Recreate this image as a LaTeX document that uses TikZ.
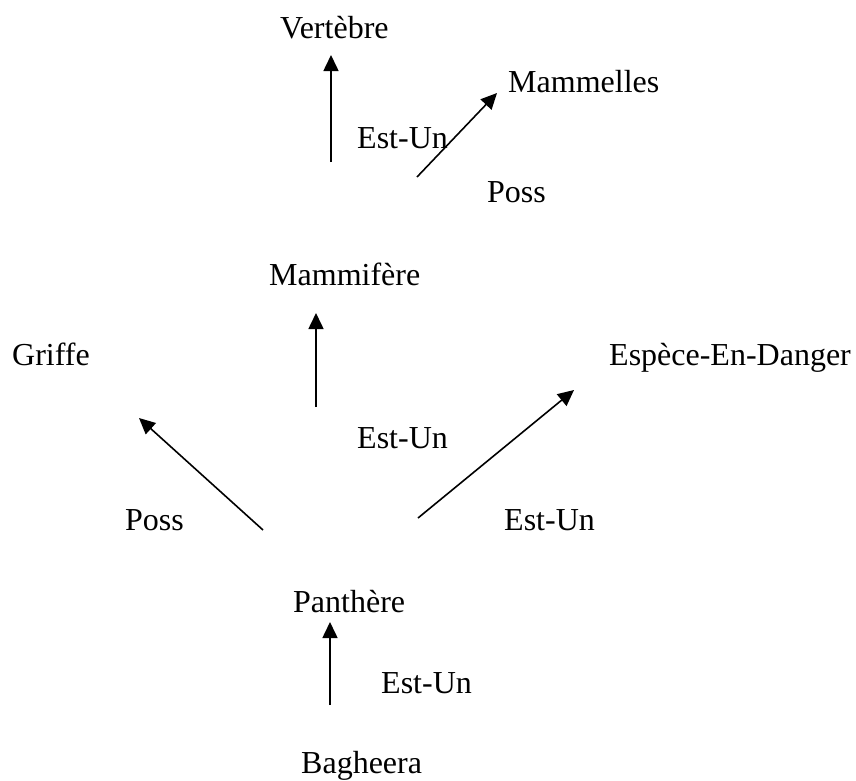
\documentclass[tikz,border=0pt]{standalone}
\usepackage{fontspec}
\setmainfont{Liberation Serif}
\usetikzlibrary{arrows.meta}
\tikzset{
  >={Triangle[length=16pt,width=15pt]},
  concept/.style={anchor=base west,inner sep=0pt,font=\fontsize{32}{38}\selectfont},
  rel/.style={concept},
  link/.style={->,line width=1.6pt,draw=black}
}

\begin{document}
\begin{tikzpicture}[x=1pt,y=-1pt]
  \useasboundingbox (0,0) rectangle (856,780);
  % concepts
  \node[concept] (vertebre) at (280,38) {Vertèbre};
  \node[concept] (mammelles) at (508,92) {Mammelles};
  \node[concept] (mammifere) at (269,285) {Mammifère};
  \node[concept] (griffe) at (12,365) {Griffe};
  \node[concept] (danger) at (609,365) {Espèce-En-Danger};
  \node[concept] (panthere) at (293,612) {Panthère};
  \node[concept] (bagheera) at (301,773) {Bagheera};
  % relation labels
  \node[rel] (isa-vert) at (357,148) {Est-Un};
  \node[rel] (poss-mam) at (487,202) {Poss};
  \node[rel] (isa-mammif) at (357,448) {Est-Un};
  \node[rel] (poss-griffe) at (125,530) {Poss};
  \node[rel] (isa-danger) at (504,530) {Est-Un};
  \node[rel] (isa-panth) at (381,693) {Est-Un};
  % arrow ends
  \coordinate (mammif-up) at (331,162);
  \coordinate (vertebre-in) at (331,55);
  \coordinate (mammif-right) at (417,177);
  \coordinate (mammelles-in) at (497,93);
  \coordinate (panth-up) at (316,407);
  \coordinate (mammif-in) at (316,313);
  \coordinate (panth-left) at (263,530);
  \coordinate (griffe-in) at (139,418);
  \coordinate (panth-right) at (418,518);
  \coordinate (danger-in) at (574,390);
  \coordinate (bag-up) at (330,705);
  \coordinate (panth-in) at (330,622);
  \draw[link] (mammif-up) -- (vertebre-in);
  \draw[link] (mammif-right) -- (mammelles-in);
  \draw[link] (panth-up) -- (mammif-in);
  \draw[link] (panth-left) -- (griffe-in);
  \draw[link] (panth-right) -- (danger-in);
  \draw[link] (bag-up) -- (panth-in);
\end{tikzpicture}
\end{document}
